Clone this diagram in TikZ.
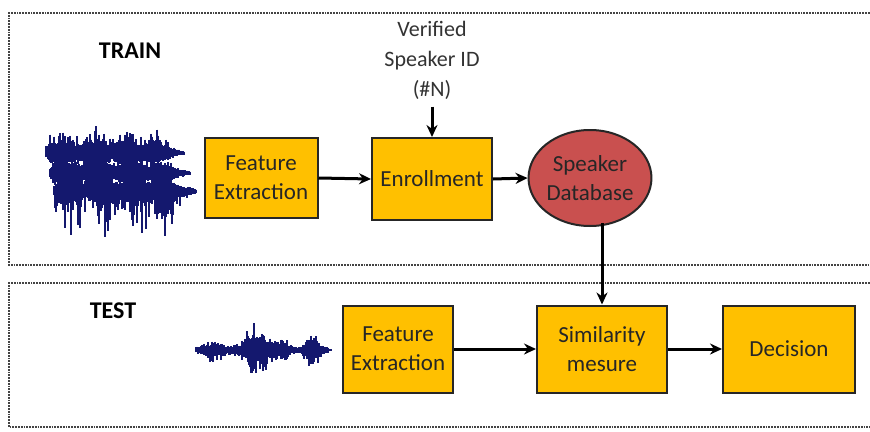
\documentclass[tikz,border=0pt]{standalone}
\usepackage{fontspec}
\setmainfont{Carlito}
\usetikzlibrary{arrows.meta,shapes.geometric}
\definecolor{boxfill}{HTML}{FFC000}
\definecolor{dbfill}{HTML}{C9504F}
\definecolor{wave}{HTML}{14186E}
\definecolor{frame}{HTML}{444444}
\tikzset{
  blk/.style={draw=black!85, line width=2pt, fill=boxfill, align=center,
    font=\fontsize{23}{29}\selectfont, text=black!85, inner sep=0pt},
  conn/.style={line width=3pt, -{Stealth[length=12pt,width=11pt]}},
  framebox/.style={draw=frame, line width=1.8pt, densely dotted},
  lbl/.style={font=\fontsize{24}{28}\selectfont\bfseries},
  wv/.style={draw=wave, line width=1.3pt},
}
\begin{document}
\begin{tikzpicture}[x=1pt,y=-1pt]
\useasboundingbox (0,0) rectangle (870,431);
\clip (0,0) rectangle (870,431);
\fill[white] (0,0) rectangle (870,431);

% section frames
\draw[framebox] (878,13) -- (9,13) -- (9,265) -- (878,265);
\draw[framebox] (878,283) -- (9,283) -- (9,427) -- (878,427);

\node[lbl] (train) at (130,51) {TRAIN};
\node[lbl] (test) at (113,311) {TEST};

% training chain
\node[blk, minimum width=113pt, minimum height=80pt] (fe1) at (261,178) {Feature\\Extraction};
\node[blk, minimum width=120pt, minimum height=82pt] (enr) at (432,179) {Enrollment};
\node[ellipse, draw=black!85, line width=2pt, fill=dbfill, minimum width=114pt, minimum height=96pt,
  align=center, font=\fontsize{23}{29}\selectfont, text=black!85, inner sep=0pt] (db) at (590,178) {Speaker\\Database};
\node[align=center, font=\fontsize{22}{30}\selectfont, text=black!80] (vid) at (432,60) {Verified\\Speaker ID\\(\#N)};

\draw[conn] (vid.south) ++(0,4) coordinate (vidtail) -- (enr.north);
\draw[conn] (fe1.east) -- (enr.west);
\draw[conn] (enr.east) -- (db.west);

% testing chain
\node[blk, minimum width=110pt, minimum height=87pt] (fe2) at (398,349) {Feature\\Extraction};
\node[blk, minimum width=130pt, minimum height=87pt] (sim) at (602,349) {Similarity\\mesure};
\node[blk, minimum width=132pt, minimum height=87pt] (dec) at (789,349) {Decision};

\draw[conn] (fe2.east) -- (sim.west);
\draw[conn] (sim.east) -- (dec.west);
\draw[conn] (db.south -| sim.north) ++(0,-4) coordinate (dbout) -- (sim.north);

% training speech waveform (three overlaid channels)
\pgfmathsetseed{11}
\foreach \c/\xa/\xb/\au/\ad in {153/46/184/22/10, 173/50/190/10/10, 191/54/196/10/40} {
  \draw[wv, line width=1.4pt] (\xa,\c) -- (\xb,\c);
  \foreach \x in {\xa,...,\xb} {
    \pgfmathsetmacro{\t}{min(1,(\xb-\x)/32)*min(1,(\x-\xa+4)/8)*(0.5+0.5*abs(sin((\x-\xa)*5.5)))}
    \pgfmathsetmacro{\up}{1.5+(8+\au*rnd*rnd)*\t}
    \pgfmathsetmacro{\dn}{1.5+(8+\ad*rnd*rnd)*\t}
    \draw[wv] (\x,\c-\up) -- (\x,\c+\dn);
  }
}

% test speech waveform
\pgfmathsetseed{5}
\draw[wv, line width=1.4pt] (195,350) -- (332,350);
\foreach \x in {196,...,328} {
  \pgfmathsetmacro{\t}{0.08+0.35*exp(-((\x-214)/10)^2)+exp(-((\x-257)/14)^2)+0.45*exp(-((\x-283)/6)^2)+0.6*exp(-((\x-312)/8)^2)}
  \pgfmathsetmacro{\up}{1.5+30*\t*(0.25+0.75*rnd*rnd)}
  \pgfmathsetmacro{\dn}{1.5+34*\t*(0.25+0.75*rnd*rnd)}
  \draw[wv] (\x,350-\up) -- (\x,350+\dn);
}
\end{tikzpicture}
\end{document}
